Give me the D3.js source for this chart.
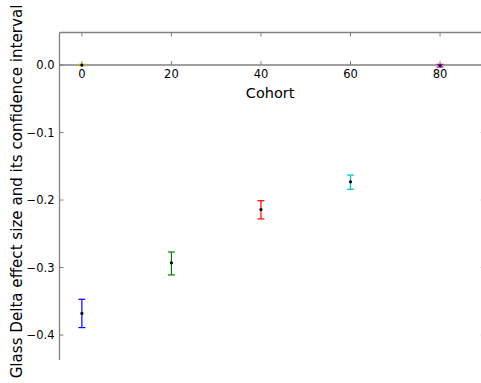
<!DOCTYPE html>
<html>
<head>
<meta charset="utf-8">
<script src="https://cdn.jsdelivr.net/npm/d3@7"></script>
<style>
  body { margin: 0; background: #fff; }
  svg { display: block; font-family: "DejaVu Sans", sans-serif; }
</style>
</head>
<body>
<svg id="chart" width="481" height="383"></svg>
<script>
const cohorts = [0, 20, 40, 60, 80, 0];
const effect = [-0.368, -0.293, -0.214, -0.173, -0.001, 0.0];
const ciLow = [-0.389, -0.311, -0.228, -0.184, -0.003, -0.001];
const ciHigh = [-0.347, -0.277, -0.201, -0.163, 0.001, 0.001];
const colors = ["#0000ff", "#008000", "#ff0000", "#00bfbf", "#bf00bf", "#bfbf00"];
const xTicks = [0, 20, 40, 60, 80];
const yTicks = [0.0, -0.1, -0.2, -0.3, -0.4];

(function () {
const svg = d3.select("#chart");
const pLeft = 59.5, pRight = 484.8, pTop = 32.5, pBottom = 360;
const x = d3.scaleLinear().domain([-5, 90]).range([pLeft, pRight]);
const y = d3.scaleLinear().domain([0.0482, -0.437]).range([pTop, pBottom]);
const spine = "#808080";

// spines
svg.append("line").attr("x1", pLeft).attr("x2", pLeft).attr("y1", pTop).attr("y2", pBottom)
  .attr("stroke", spine).attr("stroke-width", 1.3);
svg.append("line").attr("x1", pLeft).attr("x2", pRight).attr("y1", pTop).attr("y2", pTop)
  .attr("stroke", spine).attr("stroke-width", 1.3);
svg.append("line").attr("x1", pRight).attr("x2", pRight).attr("y1", pTop).attr("y2", pBottom)
  .attr("stroke", spine).attr("stroke-width", 1.3);

// top ticks (inward)
svg.append("g").selectAll("line").data(xTicks).join("line")
  .attr("x1", d => x(d)).attr("x2", d => x(d))
  .attr("y1", pTop).attr("y2", pTop + 4)
  .attr("stroke", spine).attr("stroke-width", 1);

// left & right ticks (inward)
svg.append("g").selectAll("line").data(yTicks).join("line")
  .attr("x1", pLeft).attr("x2", pLeft + 4)
  .attr("y1", d => y(d)).attr("y2", d => y(d))
  .attr("stroke", spine).attr("stroke-width", 1);
svg.append("g").selectAll("line").data(yTicks).join("line")
  .attr("x1", pRight - 4).attr("x2", pRight)
  .attr("y1", d => y(d)).attr("y2", d => y(d))
  .attr("stroke", spine).attr("stroke-width", 1);

// y tick labels
svg.append("g").selectAll("text").data(yTicks).join("text")
  .attr("x", pLeft - 5).attr("y", d => y(d)).attr("dy", "0.35em")
  .attr("text-anchor", "end").attr("font-size", 11.5).attr("fill", "#000")
  .text(d => d3.format(".1f")(d).replace("-", "\u2212"));

// x axis at zero (bottom spine at zero)
const y0 = y(0);
svg.append("line").attr("x1", pLeft).attr("x2", pRight).attr("y1", y0).attr("y2", y0)
  .attr("stroke", spine).attr("stroke-width", 1.6);
svg.append("g").selectAll("line").data(xTicks).join("line")
  .attr("x1", d => x(d)).attr("x2", d => x(d))
  .attr("y1", y0).attr("y2", y0 - 4)
  .attr("stroke", spine).attr("stroke-width", 1);
svg.append("g").selectAll("text").data(xTicks).join("text")
  .attr("x", d => x(d)).attr("y", y0 + 4).attr("dy", "0.8em")
  .attr("text-anchor", "middle").attr("font-size", 11.5).attr("fill", "#000")
  .text(d => d);

svg.append("text").attr("x", (pLeft + pRight) / 2 - 2).attr("y", y0 + 33)
  .attr("text-anchor", "middle").attr("font-size", 14.5).attr("fill", "#000")
  .text("Cohort");

svg.append("text")
  .attr("transform", `translate(22, 191.5) rotate(-90)`)
  .attr("text-anchor", "middle").attr("font-size", 15.1).attr("fill", "#000")
  .text("Glass Delta effect size and its confidence interval");

// error bars
const data = cohorts.map((c, i) => ({ c, v: effect[i], lo: ciLow[i], hi: ciHigh[i], col: colors[i] }));
const g = svg.append("g");
data.forEach(d => {
  const cx = x(d.c);
  g.append("line").attr("x1", cx).attr("x2", cx).attr("y1", y(d.lo)).attr("y2", y(d.hi))
    .attr("stroke", d.col).attr("stroke-width", 1.2);
  [d.lo, d.hi].forEach(v => {
    g.append("line").attr("x1", cx - 3.5).attr("x2", cx + 3.5).attr("y1", y(v)).attr("y2", y(v))
      .attr("stroke", d.col).attr("stroke-width", 1.2);
  });
  g.append("circle").attr("cx", cx).attr("cy", y(d.v)).attr("r", 1.6).attr("fill", "#000");
});
})();
</script>
</body>
</html>
